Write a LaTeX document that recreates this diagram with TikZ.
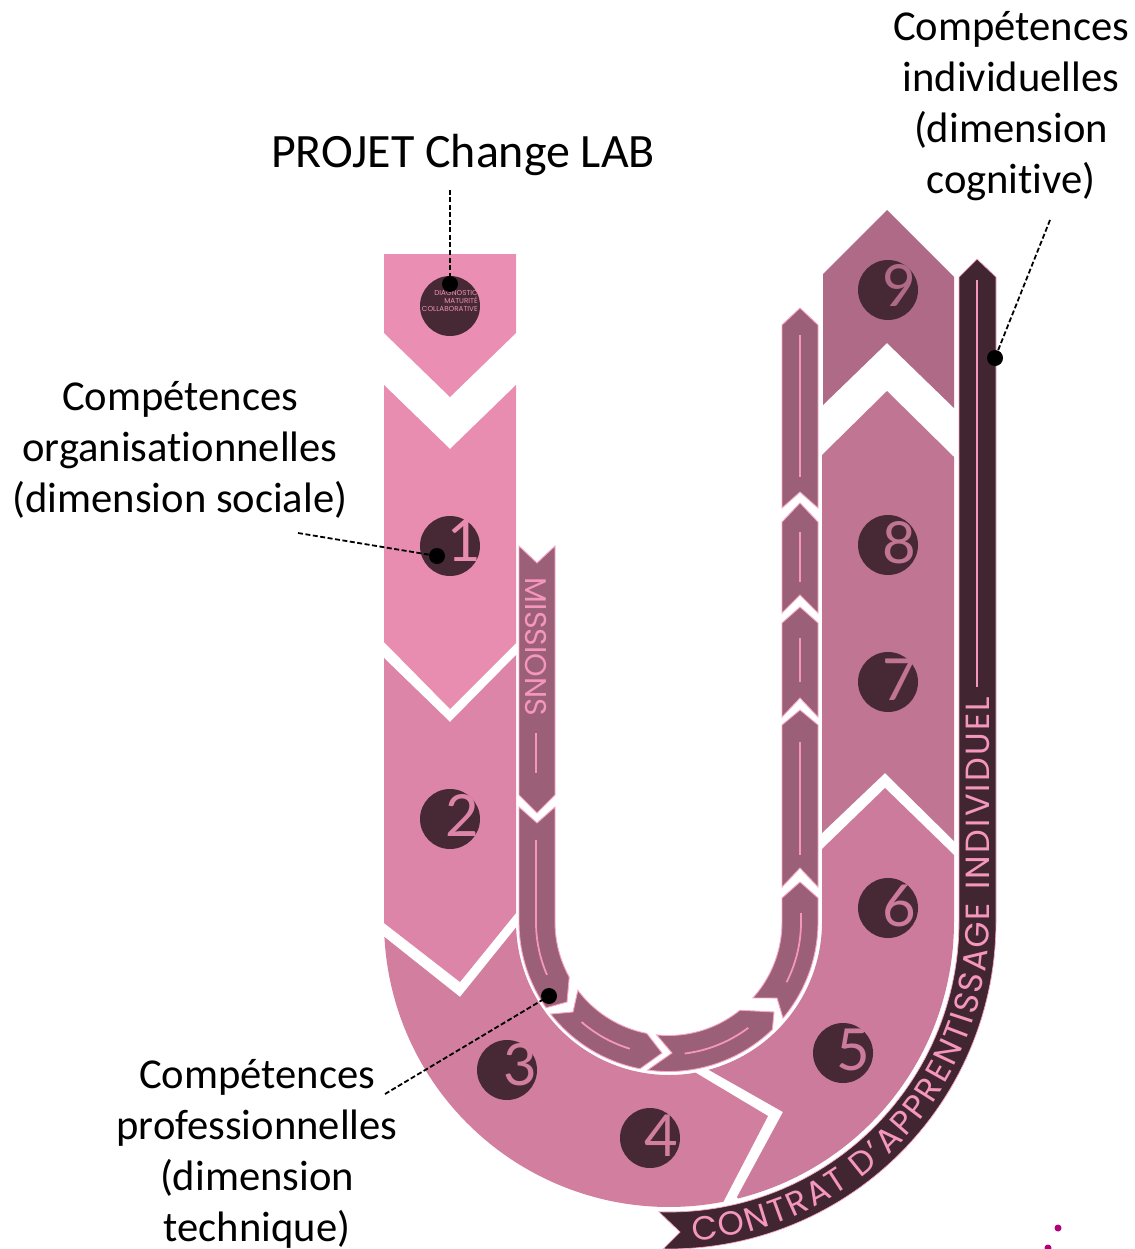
\documentclass[tikz,border=0pt]{standalone}
\usepackage{fontspec}
\setmainfont{Carlito}[Ligatures=NoCommon]
\newfontfamily\popf{Poppins}
\newfontfamily\latof{Lato}
\usetikzlibrary{decorations.text}
\definecolor{sega}{HTML}{EA8FB3}
\definecolor{segb}{HTML}{E88CB0}
\definecolor{segc}{HTML}{DC85A9}
\definecolor{segd}{HTML}{D17E9F}
\definecolor{sege}{HTML}{CC7B9D}
\definecolor{segf}{HTML}{C07593}
\definecolor{segg}{HTML}{AE6A87}
\definecolor{miss}{HTML}{9B5F77}
\definecolor{ribb}{HTML}{412632}
\definecolor{disc}{HTML}{472935}
\definecolor{linec}{HTML}{F596BC}
\definecolor{halo}{HTML}{F7A6C6}
\definecolor{specks}{HTML}{B5007C}
\newcommand\arcto[3]{-- plot[domain=#2:#3,samples=60] ({669-#1*cos(\x)},{922+#1*sin(\x)})}
\newcommand\marcto[3]{-- plot[domain=#2:#3,samples=40] ({668.5-#1*cos(\x)},{922+#1*sin(\x)})}
\tikzset{
  missarrow/.style={fill=miss,draw=halo,line width=0.9pt,line join=miter},
  missline/.style={draw=linec,line width=1.8pt},
  numdisc/.style={circle,fill=disc,minimum size=60pt,inner sep=0pt},
  digit/.style={font=\latof\fontsize{58}{58}\selectfont,inner sep=0pt},
  dotk/.style={circle,fill=black,minimum size=16pt,inner sep=0pt},
  leader/.style={draw=black,line width=1.8pt,dash pattern=on 5pt off 2.5pt},
  lab/.style={align=center,font=\fontsize{42.6}{51.2}\selectfont,inner sep=0pt},
  speck/.style={circle,fill=specks,minimum size=7pt,inner sep=0pt}
}
\begin{document}
\begin{tikzpicture}[x=1pt,y=-1pt]
\useasboundingbox (0,0) rectangle (1134,1249);
% main band
\fill[sega] (384,254) -- (516,254) -- (516,333) -- (450,397) -- (384,333) -- cycle;
\fill[segb] (384,385) -- (450,449) -- (516,385) -- (516,643) -- (450,709) -- (384,642) -- cycle;
\fill[segc] (384,658) -- (450,722) -- (516,655) -- (516,913) -- (460,982) -- (384,923) -- cycle;
\fill[segd] (460,997) \arcto{285}{3}{101} -- (768,1116) \arcto{153}{100}{2} -- cycle;
\fill[sege] (783,1112) -- (737,1197) \arcto{285}{104}{180} -- (954,855) -- (885,788) -- (822,849) \arcto{153}{180}{105} -- cycle;
\fill[segf] (822,455) -- (887,391) -- (954,457) -- (954,841) -- (885,773) -- (822,833) -- cycle;
\fill[segg] (887,210) -- (954,277) -- (954,408) -- (887,343) -- (823,405) -- (823,274) -- cycle;
% ribbon
\path[fill=ribb,draw=halo,line width=0.7pt] (680,1232) \arcto{290}{88}{180} -- (959,277) -- (977,259) -- (996,277) \arcto{327}{180}{89} -- cycle;
\draw[missline] (977,280) -- (977,687);
\path[decorate,decoration={text along path,text align=fit to path,
  text={|\popf\fontsize{33.5}{33.5}\selectfont\color{linec}|CONTRAT D’APPRENTISSAGE INDIVIDUEL}}]
  (693,1241) \arcto{320}{95}{180} -- (989,697);
% missions arrows
\path[missarrow] (519,546) -- (537,563) -- (555,546) -- (555,795) -- (537,813) -- (519,795) -- cycle;
\path[missarrow] (519,807) -- (537,823) -- (555,807) \marcto{113.5}{0}{29} -- (567,1002) \marcto{149.5}{35}{0} -- cycle;
\path[missarrow] (573,1012) \marcto{113.5}{37}{79} -- (662,1053) \marcto{149.5}{79}{38} -- cycle;
\path[missarrow] (672,1053) \marcto{113.5}{84}{129} -- (774,1012) \marcto{149.5}{134}{82} -- cycle;
\path[missarrow] (777,998) \marcto{113.5}{138}{180} -- (782,898) -- (800,882) -- (818,898) \marcto{149.5}{180}{140} -- cycle;
\path[missarrow] (782,725) -- (800,710) -- (818,725) -- (818,887) -- (800,868) -- (782,887) -- cycle;
\path[missarrow] (782,623) -- (800,607) -- (818,623) -- (818,717) -- (800,698) -- (782,717) -- cycle;
\path[missarrow] (782,522) -- (800,503) -- (818,522) -- (818,613) -- (800,595) -- (782,613) -- cycle;
\path[missarrow] (782,325) -- (800,308) -- (818,325) -- (818,508) -- (800,492) -- (782,508) -- cycle;
% mission lines
\draw[missline] (536,733) -- (536,773);
\draw[missline] (536,840) \marcto{132.5}{0}{23.5};
\draw[missline] plot[domain=49:73,samples=20] ({668.5-132.5*cos(\x)},{922+132.5*sin(\x)});
\draw[missline] plot[domain=97:127,samples=20] ({668.5-132.5*cos(\x)},{922+132.5*sin(\x)});
\draw[missline] (801,913) \marcto{132.5}{180}{153};
\draw[missline] (800,742) -- (800,855);
\draw[missline] (800,638) -- (800,682);
\draw[missline] (800,532) -- (800,582);
\draw[missline] (800,335) -- (800,477);
\node[rotate=-90,text=linec,font=\popf\fontsize{30}{30}\selectfont,inner sep=0pt] (missions) at (536,647) {MISSIONS};
% discs
\node[numdisc] (c0) at (450,306) {};
\node[numdisc] (c1) at (450,546) {};
\node[numdisc] (c2) at (450,819) {};
\node[numdisc] (c3) at (507,1070) {};
\node[numdisc] (c4) at (650,1138) {};
\node[numdisc] (c5) at (843,1053) {};
\node[numdisc] (c6) at (888,908) {};
\node[numdisc] (c7) at (888,682) {};
\node[numdisc] (c8) at (888,545) {};
\node[numdisc] (c9) at (888,290) {};
\node[digit,text=segb] (n1) at (464,541) {1};
\node[digit,text=segc] (n2) at (462,815) {2};
\node[digit,text=segd] (n3) at (520,1065) {3};
\node[digit,text=segd] (n4) at (661,1136) {4};
\node[digit,text=sege] (n5) at (853,1050) {5};
\node[digit,text=sege] (n6) at (899,906) {6};
\node[digit,text=segf] (n7) at (899,680) {7};
\node[digit,text=segf] (n8) at (899,543) {8};
\node[digit,text=segg] (n9) at (899,285) {9};
\node[align=right,text=sega,font=\popf\fontsize{7.2}{7.6}\selectfont,inner sep=0pt,anchor=east] (diag) at (478,301) {DIAGNOSTIC\\MATURITÉ\\COLLABORATIVE};
% labels
\node[font=\fontsize{47.9}{50}\selectfont,inner sep=0pt] (projet) at (463,155) {PROJET Change LAB};
\node[lab] (indiv) at (1011,106) {Compétences\\individuelles\\(dimension\\cognitive)};
\node[lab] (orga) at (180,450) {Compétences\\organisationnelles\\(dimension sociale)};
\node[lab] (prof) at (257,1154) {Compétences\\professionnelles\\(dimension\\technique)};
% dots and leaders
\node[dotk] (d0) at (450,284) {};
\node[dotk] (d1) at (437,556) {};
\node[dotk] (d2) at (549,996) {};
\node[dotk] (d3) at (995,358) {};
\coordinate (l0) at (450,190);
\coordinate (l1) at (298,533);
\coordinate (l2) at (385,1094);
\coordinate (l3) at (1050,220);
\draw[leader] (l0) -- (d0.center);
\draw[leader] (l1) -- (d1.center);
\draw[leader] (l2) -- (d2.center);
\draw[leader] (l3) -- (d3.center);
\node[speck] (s1) at (1058,1228) {};
\node[speck] (s2) at (1048,1248) {};
\end{tikzpicture}
\end{document}
